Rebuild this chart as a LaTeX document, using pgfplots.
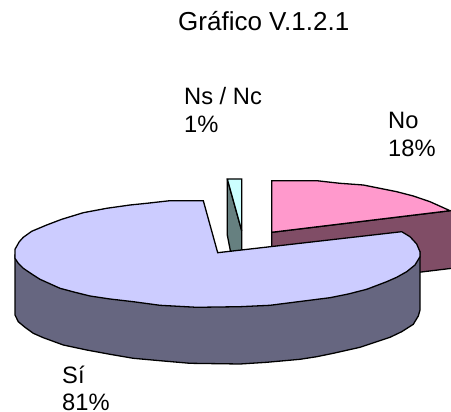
\documentclass[border=0pt]{standalone}
\usepackage{pgfplots}
\pgfplotsset{compat=1.18}
\usepackage{fontspec}
\setmainfont{Liberation Sans}
\definecolor{cyanT}{HTML}{CCFFFF}
\definecolor{cyanS}{HTML}{668080}
\definecolor{pinkT}{HTML}{FF99CC}
\definecolor{pinkS}{HTML}{804D66}
\definecolor{blueT}{HTML}{CCCCFF}
\definecolor{blueS}{HTML}{666680}
\begin{document}
\begin{tikzpicture}
\useasboundingbox (0,0) rectangle (451pt,412pt);
\begin{axis}[
  scale only axis, width=451pt, height=412pt,
  xmin=0, xmax=451, ymin=0, ymax=412, y dir=reverse,
  hide axis, clip=true,
  every axis plot/.append style={draw=black, line width=1.3pt, line join=miter, miter limit=3, mark=none},
]
% Ns / Nc
\addplot[fill=cyanS] coordinates {(227.3,179) (241.7,230.7) (241.7,252) (231,254) (227.3,235)} -- cycle;
\addplot[fill=cyanT] coordinates {(227.3,179) (241.7,179) (241.7,230.7)} -- cycle;
% No
\addplot[fill=pinkS] coordinates {(271.7,232.3) (452,210.5) (452,268.3) (271.7,290)} -- cycle;
\addplot[fill=pinkT] coordinates {(271.7,180.7) (316.7,180.7) (340,183.3) (363.3,185) (396.7,191.7) (413.3,196) (430,201.7) (450,210.7) (271.7,232.3)} -- cycle;
% Si side
\addplot[fill=blueS] coordinates {(15,255) (15,315) (18.3,321.7) (25,327.3) (33.3,333.3) (43.3,337.7) (63.3,345) (86.7,350) (110,354.3) (133.3,358.3) (160,360.7) (190,363.3) (240,364) (266.7,362.3) (300,359.3) (316.7,356.7) (333.3,353.3) (360,347.3) (375,342.3) (390,337.3) (401.7,331.7) (413.3,324.3) (418.3,316) (420,310) (420,252)} -- cycle;
% Si top
\addplot[fill=blueT] coordinates {(217.7,252.7) (203.3,200.7) (170,200.7) (146.7,203.3) (130,205) (106.7,208.3) (83.3,212.7) (61.7,219.3) (46.7,225) (31.7,231.3) (23.3,237.3) (19.3,241.7) (15,249.3) (15,258.3) (18.3,263.3) (23.3,268.3) (31.7,274) (40,279.3) (60,288.3) (75,292.3) (90,296) (110,299) (133.3,301.7) (160,305.3) (196.7,307.3) (240,306.7) (270,305.3) (298.3,301.7) (330,297.7) (348.3,294) (366.7,289.3) (386.7,281.7) (396.7,277.3) (406.7,271.7) (415,265) (420,256.7) (420,251.7) (416.7,244) (410,236.7) (401.7,231.7)} -- cycle;
\node[anchor=base west, inner sep=0pt, font=\fontsize{26}{30}\selectfont] at (axis cs:178,30.7) {Gráfico V.1.2.1};
\node[anchor=base west, inner sep=0pt, font=\fontsize{23.7}{28}\selectfont] at (axis cs:184,105) {Ns / Nc};
\node[anchor=base west, inner sep=0pt, font=\fontsize{23.7}{28}\selectfont] at (axis cs:184,133) {1\%};
\node[anchor=base west, inner sep=0pt, font=\fontsize{23.7}{28}\selectfont] at (axis cs:388,129) {No};
\node[anchor=base west, inner sep=0pt, font=\fontsize{23.7}{28}\selectfont] at (axis cs:388,156.7) {18\%};
\node[anchor=base west, inner sep=0pt, font=\fontsize{23.7}{28}\selectfont] at (axis cs:62,384) {Sí};
\node[anchor=base west, inner sep=0pt, font=\fontsize{23.7}{28}\selectfont] at (axis cs:62,410.2) {81\%};
\end{axis}
\end{tikzpicture}
\end{document}
